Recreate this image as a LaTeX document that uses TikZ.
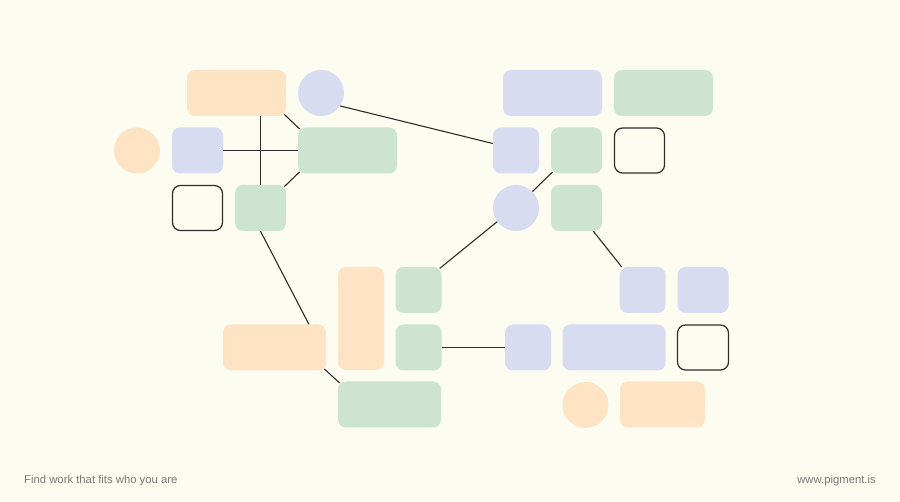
\documentclass[tikz,border=0pt]{standalone}
\usepackage{fontspec}
\setmainfont{Liberation Sans}
\usepackage{tikz}

\definecolor{paper}{RGB}{252,252,240}
\definecolor{peach}{RGB}{254,228,196}
\definecolor{lilac}{RGB}{216,220,240}
\definecolor{mint}{RGB}{205,229,208}
\definecolor{ink}{RGB}{45,45,45}
\definecolor{caption}{RGB}{120,120,120}

\tikzset{
	card/.style args={#1x#2}{rectangle, rounded corners=8pt, inner sep=0pt, minimum width=#1pt, minimum height=#2pt},
	dot/.style={circle, inner sep=0pt, minimum size=46pt},
	peachcard/.style={card=#1, fill=peach},
	lilaccard/.style={card=#1, fill=lilac},
	mintcard/.style={card=#1, fill=mint},
	framecard/.style={card=#1, draw=ink, line width=1.2pt},
	link/.style={draw=ink, line width=1.1pt},
	cornerlink/.style={link, shorten <=-2.5pt, shorten >=-2.5pt},
	footer/.style={text=caption, font=\fontsize{11.3}{13}\selectfont, inner sep=0pt}
}

\begin{document}
\begin{tikzpicture}[x=1pt, y=-1pt]
		%%%%% START %%%%%
		
		\fill[paper] (0, 0) rectangle (900, 502);
		\useasboundingbox (0, 0) rectangle (900, 502);
		
		% top left group
		\node[peachcard=99x46] (tlRect) at (236.5, 93) {};
		\node[dot, fill=lilac] (tlCirc) at (321, 93) {};
		\node[dot, fill=peach] (tlDot) at (137, 150.5) {};
		\node[lilaccard=51x46] (tlSq) at (197.5, 150.5) {};
		\node[mintcard=99x46] (tlGrect) at (347.5, 150.5) {};
		\node[framecard=50x45] (tlFrame) at (197.5, 208) {};
		\node[mintcard=51x46] (tlSqG) at (260.5, 208) {};
		
		% top right group
		\node[lilaccard=99x46] (trRectL) at (552.5, 93) {};
		\node[mintcard=99x46] (trRectG) at (663.5, 93) {};
		\node[lilaccard=46x46] (trSqL) at (516, 150.5) {};
		\node[mintcard=51x46] (trSqG) at (576.5, 150.5) {};
		\node[framecard=50x45] (trFrame) at (639.5, 150.5) {};
		\node[dot, fill=lilac] (trCirc) at (516, 208) {};
		\node[mintcard=51x46] (trSqG2) at (576.5, 208) {};
		
		% bottom left group
		\node[peachcard=103x46] (blRect) at (274.5, 347.5) {};
		\node[peachcard=46x103] (blTall) at (361, 318.5) {};
		\node[mintcard=46x46] (blSq1) at (418.5, 290) {};
		\node[mintcard=46x46] (blSq2) at (418.5, 347.5) {};
		\node[mintcard=103x46] (blRectG) at (389.5, 404.5) {};
		
		% bottom right group
		\node[lilaccard=46x46] (brSq1) at (642.5, 290) {};
		\node[lilaccard=51x46] (brSq2) at (703, 290) {};
		\node[lilaccard=46x46] (brSq3) at (528, 347.5) {};
		\node[lilaccard=103x46] (brRect) at (614, 347.5) {};
		\node[framecard=51x45] (brFrame) at (703, 347.5) {};
		\node[dot, fill=peach] (brDot) at (585.5, 405) {};
		\node[peachcard=85x46] (brRectO) at (662.5, 404.5) {};
		
		% links
		\draw[link] (tlSqG.north) -- (tlSqG.north |- tlRect.south);
		\draw[link] (tlSq) -- (tlGrect);
		\draw[cornerlink] (tlRect.south east) -- (tlGrect.north west);
		\draw[cornerlink] (tlSqG.north east) -- (tlGrect.south west);
		\draw[link] (tlCirc.-34) -- ([yshift=7pt]trSqL.west);
		\draw[link, shorten >=-2.5pt] (trCirc.45) -- (trSqG.south west);
		\draw[link, shorten >=-2.5pt] (trCirc.216) -- (blSq1.north east);
		\draw[link] (trSqG2.-54) -- (brSq1.132);
		\draw[link] (tlSqG.south) -- (blRect.34);
		\draw[cornerlink] (blRect.south east) -- (blRectG.north west);
		\draw[link] (blSq2) -- (brSq3);
		
		% footer
		\node[footer, anchor=base west] (tagline) at (24, 484) {Find work that fits who you are};
		\node[footer, anchor=base east] (site) at (876, 484) {www.pigment.is};
		
		%%%%% END %%%%%
	\end{tikzpicture}
\end{document}
